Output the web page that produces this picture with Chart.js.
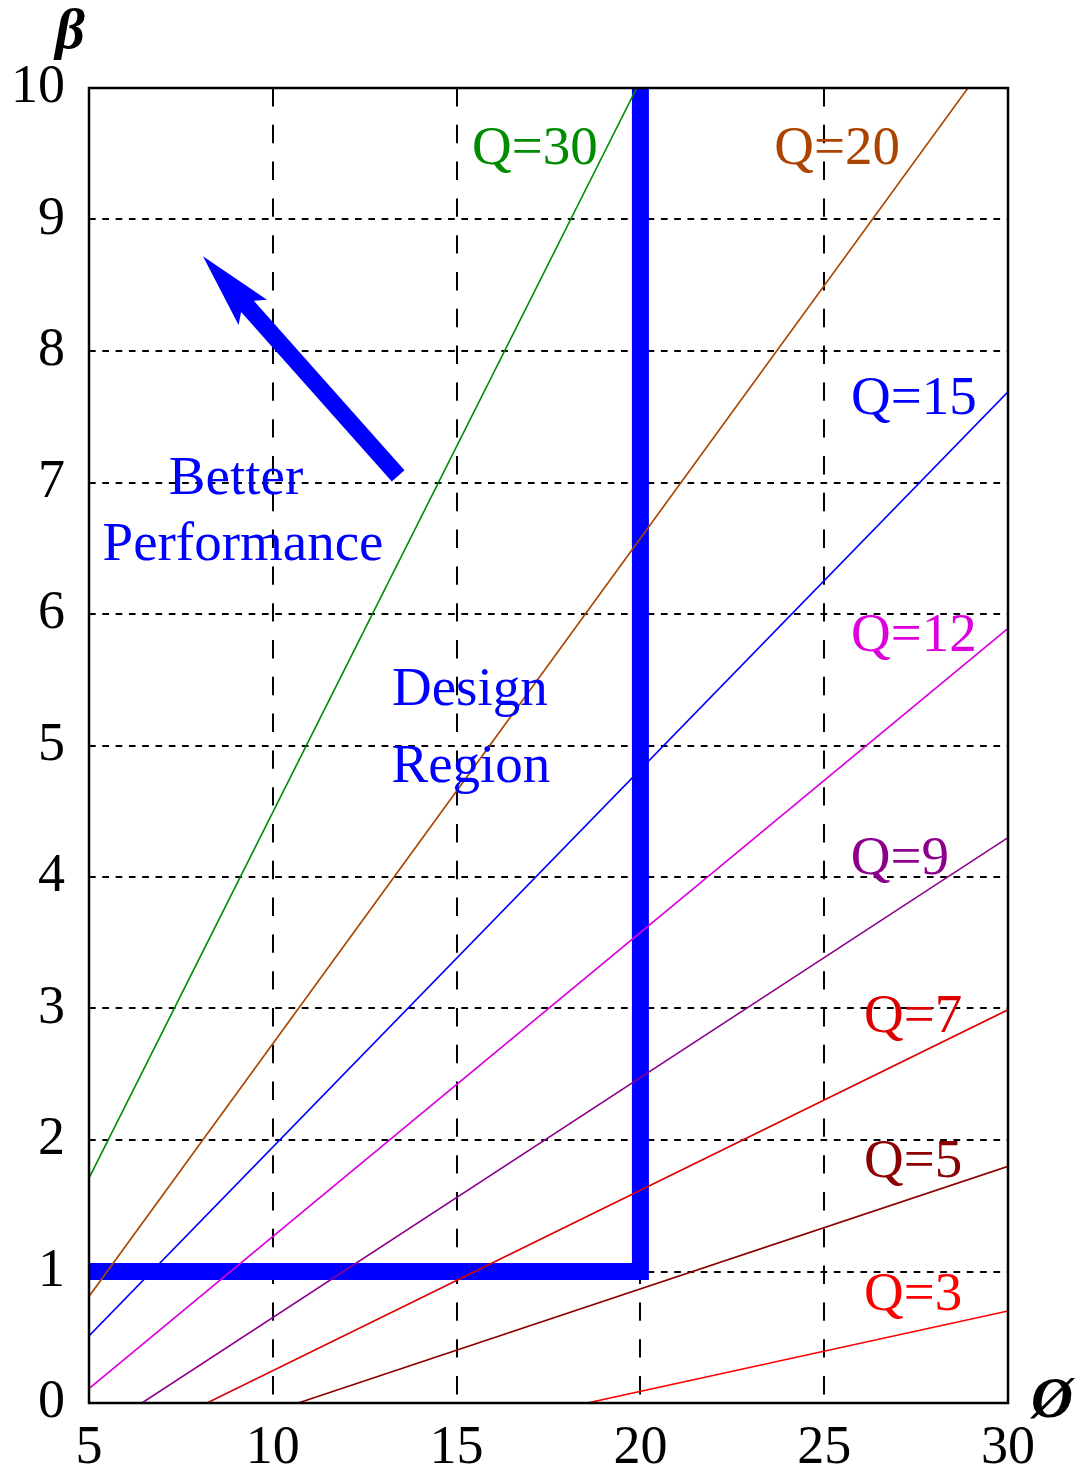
<!DOCTYPE html>
<html>
<head>
<meta charset="utf-8">
<script src="https://cdn.jsdelivr.net/npm/chart.js@4/dist/chart.umd.min.js"></script>
<style>
  html, body { margin: 0; padding: 0; background: #ffffff; }
  #wrap { width: 1082px; height: 1477px; }
</style>
</head>
<body>
<div id="wrap"><canvas id="c" width="1082" height="1477"></canvas></div>
<script>
// ---- data ----
const xTicks = [5, 10, 15, 20, 25, 30];
const yTicks = [0, 1, 2, 3, 4, 5, 6, 7, 8, 9, 10];

const qLabels = ['Q=30', 'Q=20', 'Q=15', 'Q=12', 'Q=9', 'Q=7', 'Q=5', 'Q=3'];
const qStartX = [5, 5, 5, 5, 6.44, 8.21, 10.69, 18.55];
const qStartY = [1.71, 0.81, 0.51, 0.11, 0, 0, 0, 0];
const qEndX   = [19.9, 28.91, 30, 30, 30, 30, 30, 30];
const qEndY   = [10, 10, 7.69, 5.89, 4.30, 2.99, 1.80, 0.70];

// label anchor (data units)
const qLabelX = [17.13, 25.35, 27.44, 27.44, 27.06, 27.42, 27.42, 27.42];
const qLabelY = [9.53, 9.53, 7.63, 5.83, 4.13, 2.93, 1.83, 0.82];

// design region boundary
const designX = [5, 20, 20];
const designY = [1, 1, 10];

// "better performance" arrow (tail -> tip)
const arrowX = [13.41, 8.10];
const arrowY = [7.05, 8.72];

// free text annotations
const noteText = ['Better', 'Performance', 'Design', 'Region'];
const noteX = [9.0, 9.19, 15.36, 15.39];
const noteY = [7.02, 6.52, 5.42, 4.83];

// ---- styles ----
const qColors = ['#008c00', '#aa4400', '#0000ff', '#dd00dd', '#8c008c', '#dd0000', '#8b0000', '#ff0000'];
const designColor = '#0000ff';
const serif = "'Liberation Serif', 'Times New Roman', serif";

const datasets = qLabels.map((lab, i) => ({
  label: lab,
  data: [{x: qStartX[i], y: qStartY[i]}, {x: qEndX[i], y: qEndY[i]}],
  borderColor: qColors[i],
  borderWidth: 1.6,
  pointRadius: 0,
  tension: 0,
  clip: 0
}));
datasets.push({
  label: 'Design Region',
  data: designX.map((x, i) => ({x: x, y: designY[i]})),
  borderColor: designColor,
  borderWidth: 17,
  borderJoinStyle: 'miter',
  borderCapStyle: 'butt',
  pointRadius: 0,
  tension: 0,
  clip: 0
});

const overlay = {
  id: 'overlay',
  afterDatasetsDraw(chart) {
    const ctx = chart.ctx;
    const xs = chart.scales.x, ys = chart.scales.y;
    // arrow
    const tx = xs.getPixelForValue(arrowX[0]), ty = ys.getPixelForValue(arrowY[0]);
    const hx = xs.getPixelForValue(arrowX[1]), hy = ys.getPixelForValue(arrowY[1]);
    const dx = tx - hx, dy = ty - hy, len = Math.hypot(dx, dy);
    const ux = dx / len, uy = dy / len, px = -uy, py = ux;
    const headLen = 75, headHalf = 19, shaftHalf = 8.5;
    ctx.save();
    ctx.fillStyle = designColor;
    ctx.beginPath();
    ctx.moveTo(hx, hy);
    ctx.lineTo(hx + ux * headLen + px * headHalf, hy + uy * headLen + py * headHalf);
    ctx.lineTo(hx + ux * (headLen - 8) + px * shaftHalf, hy + uy * (headLen - 8) + py * shaftHalf);
    ctx.lineTo(tx + px * shaftHalf, ty + py * shaftHalf);
    ctx.lineTo(tx - px * shaftHalf, ty - py * shaftHalf);
    ctx.lineTo(hx + ux * (headLen - 8) - px * shaftHalf, hy + uy * (headLen - 8) - py * shaftHalf);
    ctx.lineTo(hx + ux * headLen - px * headHalf, hy + uy * headLen - py * headHalf);
    ctx.closePath();
    ctx.fill();

    // texts
    ctx.font = '55px ' + serif;
    ctx.textAlign = 'center';
    ctx.textBaseline = 'middle';
    qLabels.forEach((lab, i) => {
      ctx.fillStyle = qColors[i];
      ctx.fillText(lab, xs.getPixelForValue(qLabelX[i]), ys.getPixelForValue(qLabelY[i]));
    });
    ctx.fillStyle = designColor;
    noteText.forEach((t, i) => {
      ctx.fillText(t, xs.getPixelForValue(noteX[i]), ys.getPixelForValue(noteY[i]));
    });
    ctx.restore();
  },
  afterDraw(chart) {
    const ctx = chart.ctx, a = chart.chartArea;
    ctx.save();
    ctx.strokeStyle = '#000';
    ctx.lineWidth = 2.5;
    ctx.strokeRect(a.left, a.top, a.right - a.left, a.bottom - a.top);
    ctx.fillStyle = '#000';
    ctx.font = 'italic bold 58px ' + serif;
    ctx.textAlign = 'center';
    ctx.textBaseline = 'alphabetic';
    ctx.fillText('\u03B2', a.left - 19, a.top - 40);
    ctx.fillText('\u00D8', a.right + 44, a.bottom + 14);
    ctx.restore();
  }
};

const edgeX = (ctx) => (ctx.tick && (ctx.tick.value === xTicks[0] || ctx.tick.value === xTicks[xTicks.length - 1])) ? 'rgba(0,0,0,0)' : '#000';
const edgeY = (ctx) => (ctx.tick && (ctx.tick.value === yTicks[0] || ctx.tick.value === yTicks[yTicks.length - 1])) ? 'rgba(0,0,0,0)' : '#000';

new Chart(document.getElementById('c'), {
  type: 'line',
  data: { datasets: datasets },
  plugins: [overlay],
  options: {
    responsive: false,
    animation: false,
    layout: { padding: { top: 88, right: 74, left: 0, bottom: 0 } },
    plugins: { legend: { display: false }, tooltip: { enabled: false } },
    scales: {
      x: {
        type: 'linear',
        min: xTicks[0], max: xTicks[xTicks.length - 1],
        z: 1,
        afterBuildTicks: (s) => { s.ticks = xTicks.map(v => ({value: v})); },
        afterFit: (s) => { s.height = 74; },
        ticks: { color: '#000', font: { family: serif, size: 54 }, padding: 13, maxRotation: 0, autoSkip: false },
        grid: { color: edgeX, lineWidth: 2, drawTicks: false },
        border: { display: false, dash: [18.4, 18.4] }
      },
      y: {
        type: 'linear',
        min: yTicks[0], max: yTicks[yTicks.length - 1],
        z: 1,
        afterBuildTicks: (s) => { s.ticks = yTicks.map(v => ({value: v})); },
        afterFit: (s) => { s.width = 89; },
        ticks: { color: '#000', font: { family: serif, size: 54 }, padding: 24, autoSkip: false },
        grid: { color: edgeY, lineWidth: 2, drawTicks: false },
        border: { display: false, dash: [6.7, 6.6] }
      }
    }
  }
});
</script>
</body>
</html>
